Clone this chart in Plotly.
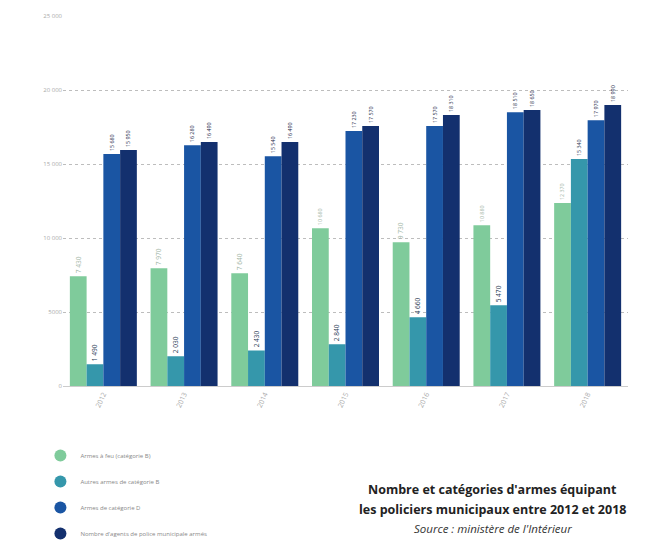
import plotly.graph_objects as go

years = ["2012", "2013", "2014", "2015", "2016", "2017", "2018"]
armes_feu_b = [7430, 7970, 7640, 10680, 9730, 10880, 12370]
autres_b = [1490, 2030, 2430, 2840, 4660, 5470, 15340]
armes_d = [15680, 16280, 15540, 17230, 17570, 18510, 17970]
agents_armes = [15950, 16490, 16490, 17570, 18310, 18650, 18990]

series_names = [
    "Armes à feu (catégorie B)",
    "Autres armes de catégorie B",
    "Armes de catégorie D",
    "Nombre d'agents de police municipale armés",
]
series_values = [armes_feu_b, autres_b, armes_d, agents_armes]
colors = ["#7fcb9b", "#3597ab", "#1a55a3", "#13306e"]
label_colors = ["#9fb5a6", "#2a3a55", "#1c2a48", "#1c2a48"]

y_ticks = [0, 5000, 10000, 15000, 20000, 25000]
y_tick_text = ["0", "5000", "10 000", "15 000", "20 000", "25 000"]


def fmt(v):
    return f"{v:,}".replace(",", " ")


fig = go.Figure()
for name, vals, col, lc in zip(series_names, series_values, colors, label_colors):
    fig.add_trace(go.Bar(
        x=years, y=vals, name=name, marker_color=col, marker_line_width=0,
        text=[fmt(v) for v in vals], textposition="outside", textangle=-90,
        textfont=dict(size=7, color=lc, family="Open Sans"),
        cliponaxis=False, showlegend=False,
    ))
for i, (name, col) in enumerate(zip(series_names, colors)):
    fig.add_trace(go.Scatter(
        x=[None], y=[None], mode="markers", name=name,
        marker=dict(symbol="circle", size=10, color=col),
        legendgroup=f"g{i}", showlegend=True,
    ))

fig.update_layout(
    width=650, height=540,
    margin=dict(l=55, r=30, t=8, b=0),
    paper_bgcolor="white", plot_bgcolor="white",
    barmode="group", bargap=0.17, bargroupgap=0,
    font=dict(family="Open Sans", color="#888"),
    legend=dict(
        x=-0.04, y=-0.008, xanchor="left", yanchor="bottom",
        font=dict(size=6, color="#888"), tracegroupgap=7,
        itemsizing="constant",
    ),
    xaxis=dict(
        tickangle=-65, tickfont=dict(size=7, color="#aaa"),
        showline=True, linecolor="#ccc", linewidth=1, ticks="",
    ),
    yaxis=dict(
        domain=[0.2985, 1],
        range=[0, 25000], tickvals=y_ticks, ticktext=y_tick_text,
        tickfont=dict(size=6, color="#aaa"),
        showgrid=True, gridcolor="#bdbdbd", griddash="dot", gridwidth=1,
        zeroline=False,
    ),
    annotations=[
        dict(
            xref="paper", yref="paper", x=0.761, y=0.103, xanchor="center", yanchor="middle",
            text="<b>Nombre et catégories d'armes équipant</b>",
            showarrow=False, font=dict(size=12.5, color="#222", family="Open Sans"),
        ),
        dict(
            xref="paper", yref="paper", x=0.761, y=0.0646, xanchor="center", yanchor="middle",
            text="<b>les policiers municipaux entre 2012 et 2018</b>",
            showarrow=False, font=dict(size=12.5, color="#222", family="Open Sans"),
        ),
        dict(
            xref="paper", yref="paper", x=0.761, y=0.0285, xanchor="center", yanchor="middle",
            text="<i>Source : ministère de l'Intérieur</i>",
            showarrow=False, font=dict(size=11.5, color="#333", family="Open Sans"),
        ),
    ],
)

fig.write_html("out.html")
